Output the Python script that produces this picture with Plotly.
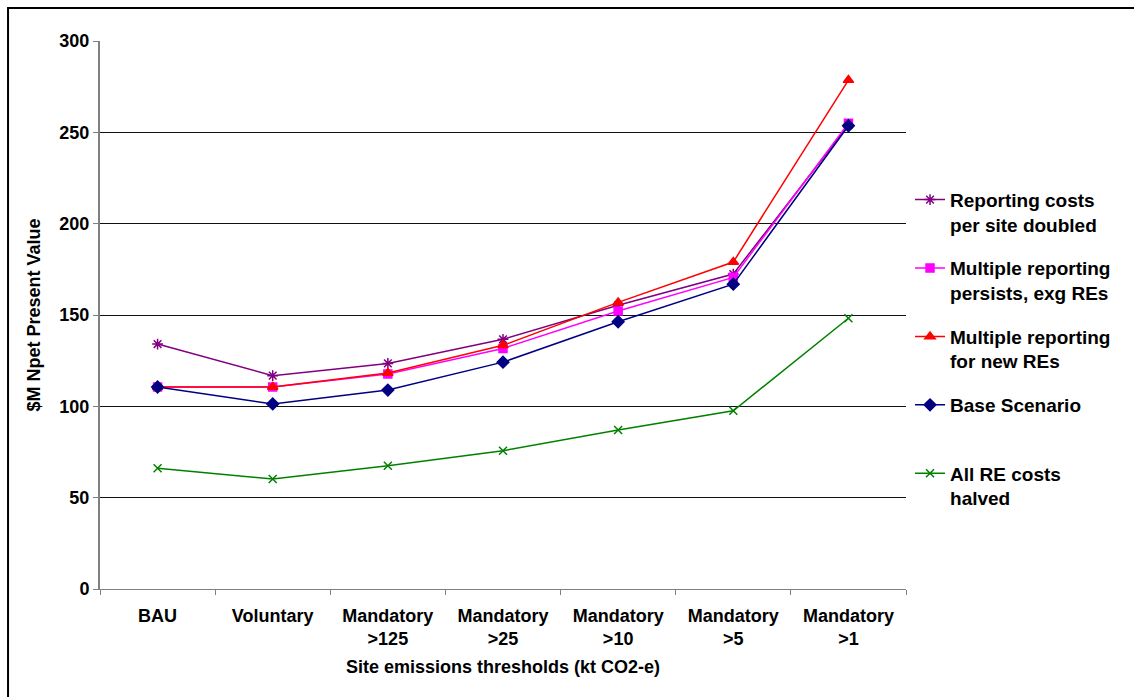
import plotly.graph_objects as go

# Emission threshold scenarios on the category axis
categories = ["BAU", "Voluntary", "Mandatory<br>>125", "Mandatory<br>>25",
              "Mandatory<br>>10", "Mandatory<br>>5", "Mandatory<br>>1"]

# Net present cost ($M) for each sensitivity case
reporting_doubled = [134.1, 116.8, 123.5, 136.7, 155.3, 172.4, 254.0]
multiple_existing = [110.6, 110.6, 117.7, 131.7, 152.2, 170.6, 255.0]
multiple_new = [110.6, 110.6, 118.2, 133.4, 156.9, 179.0, 278.6]
base_scenario = [110.6, 101.3, 108.9, 124.2, 146.3, 166.9, 253.6]
re_costs_halved = [66.1, 60.2, 67.5, 75.7, 87.0, 97.6, 148.2]

series = [
    ("Reporting costs<br>per site doubled", reporting_doubled, "#800080", "asterisk-open", 9),
    ("Multiple reporting<br>persists, exg REs", multiple_existing, "#FF00FF", "square", 8),
    ("Multiple reporting<br>for new REs", multiple_new, "#FF0000", "triangle-up", 9),
    ("Base Scenario<br> ", base_scenario, "#000080", "diamond", 9),
    ("All RE costs<br>halved", re_costs_halved, "#008000", "x-thin-open", 8),
]

fig = go.Figure()
for i, (name, vals, color, symbol, size) in enumerate(series):
    fig.add_trace(go.Scatter(
        x=categories, y=vals, name=name, mode="lines+markers",
        legendgroup=f"g{i}",
        line=dict(color=color, width=1.5),
        marker=dict(symbol=symbol, size=size, color=color,
                    line=dict(color=color, width=1.5)),
    ))

bold = "Liberation Sans"
narrow = "Liberation Sans Narrow, Arial Narrow, Liberation Sans"

fig.update_layout(
    width=1134, height=697,
    margin=dict(l=100, r=228, t=41, b=108),
    paper_bgcolor="white", plot_bgcolor="white",
    showlegend=True,
    legend=dict(
        x=1.005, xanchor="left", y=0.745, yanchor="top",
        font=dict(family=bold, size=19, color="black", weight="bold"),
        valign="top", tracegroupgap=16, itemwidth=30,
        bgcolor="rgba(0,0,0,0)",
    ),
    xaxis=dict(
        type="category", range=[-0.5, 6.5], showgrid=False,
        showline=True, linecolor="#808080", linewidth=1,
        ticks="outside", tickson="boundaries", ticklen=5, tickcolor="#808080",
        ticklabelstandoff=10,
        tickfont=dict(family=narrow, size=18, color="black", weight="bold"),
        title=dict(text="Site emissions thresholds (kt CO2-e)",
                   font=dict(family=narrow, size=18, color="black", weight="bold"),
                   standoff=12),
    ),
    yaxis=dict(
        range=[0, 300], dtick=50, showgrid=True, gridcolor="#111111", gridwidth=1,
        showline=True, linecolor="#808080", linewidth=2,
        ticks="outside", ticklen=5, tickcolor="#808080",
        tickfont=dict(family=bold, size=18, color="black", weight="bold"),
        title=dict(text="$M Npet Present Value",
                   font=dict(family=narrow, size=18, color="black", weight="bold"),
                   standoff=14),
        zeroline=False,
    ),
    shapes=[dict(type="rect", xref="paper", yref="paper",
                 x0=-0.1141, x1=1.3, y0=-0.3, y1=1.0602,
                 line=dict(color="black", width=2), layer="below")],
)

fig.write_html("out.html")
